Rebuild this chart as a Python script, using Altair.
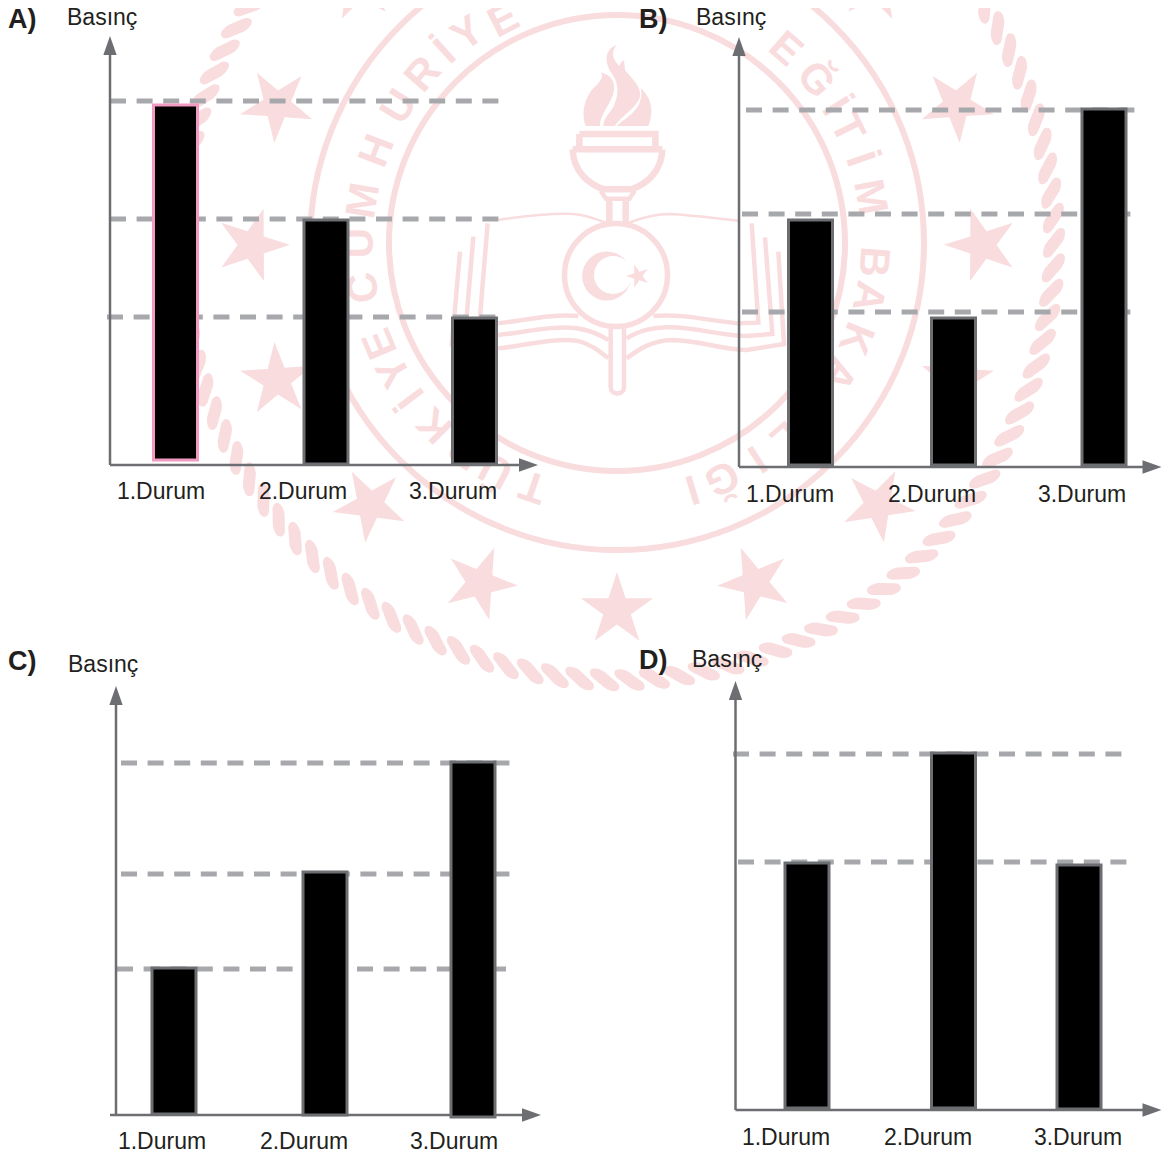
import math
import re
import altair as alt
import pandas as pd

# ---- chart values -------------------------------------------------------
cases = [1, 2, 3]
case_labels = ["1.Durum", "2.Durum", "3.Durum"]

panels = [
    dict(name="A)", base=465, axis_x=110, top=36, end=538, bars=[175.5, 326, 474.5], labels=[161, 303, 453],
         label_y=492, title_x=67, title_y=18, tag_x=8, tag_y=20,
         values=[3.60, 2.45, 1.47], bases=[0.05, 0.01, 0.01],
         lines=[(3.64, 110, 500), (2.46, 110, 500), (1.48, 107, 497)],
         strokes=["#f29ac2", "#6d6e71", "#6d6e71"]),
    dict(name="B)", base=467, axis_x=739, top=37, end=1161.5, bars=[810.5, 953.5, 1104], labels=[790, 932, 1082],
         label_y=495, title_x=696, title_y=18, tag_x=639, tag_y=20,
         values=[2.47, 1.49, 3.58], bases=[0.02, 0.02, 0.02],
         lines=[(3.57, 746, 1135), (2.53, 742, 1132), (1.55, 742, 1132)],
         strokes=["#6d6e71"] * 3),
    dict(name="C)", base=1115, axis_x=116, top=686, end=541, bars=[174, 325, 473], labels=[162, 304, 454],
         label_y=1142, title_x=68, title_y=665, tag_x=8, tag_y=662,
         values=[1.47, 2.43, 3.53], bases=[0.01, 0.0, -0.02],
         lines=[(3.52, 121, 511), (2.41, 121, 511), (1.46, 117, 294), (1.46, 357, 507)],
         strokes=["#6d6e71"] * 3),
    dict(name="D)", base=1110, axis_x=735.5, top=681, end=1161.5, bars=[807, 953.5, 1079], labels=[786, 928, 1078],
         label_y=1138, title_x=692, title_y=660, tag_x=639, tag_y=661,
         values=[2.47, 3.57, 2.45], bases=[0.02, 0.02, 0.01],
         lines=[(3.56, 733, 1122), (2.48, 738, 1127)],
         strokes=["#6d6e71"] * 3),
]

# ---- watermark values ---------------------------------------------------
seal_x, seal_y = 617, 243
ring_radii = [228, 307]
star_x = [277, 252, 277, 370, 480, 617, 755, 878, 957, 982, 957, 875, 359]
star_y = [105, 245, 380, 505, 583, 610, 583, 505, 380, 245, 105, -15, -15]
letters = list("TÜRKİYECUMHURİYEEĞİTİMBAKANLIĞI")
letter_theta = [109, 118, 126, 135, 143, 150, 157, 170, 180, 189.5, 201, 212, 221, 228, 234.5, 243,
                311, 320.6, 328, 333.6, 341, 349.7, 364.2, 372, 381.8, 390.6, 401,
                409, 417, 426, 433]
letter_radius = [257] * 15 + [250] + [257] * 15
rope_theta = [i * 360 / 110 for i in range(110)]

PINK = "#f9dcde"
GREY = "#6d6e71"
DASH = "#a7a8ab"
INK = "#231f20"
FONT = "Liberation Sans"

W, H = 1154, 1147
page_x = alt.Scale(domain=[0, W], range=[-8, W - 8])
page_y = alt.Scale(domain=[0, H], range=[-8, H - 8])
one = pd.DataFrame({"k": [0]})


def X(f="x"):
    return alt.X(f"{f}:Q", scale=page_x, axis=None)


def Y(f="y"):
    return alt.Y(f"{f}:Q", scale=page_y, axis=None)


def star_path():
    pts = []
    for i in range(10):
        r = 1 if i % 2 == 0 else 0.382
        a = math.radians(-90 + 36 * i)
        pts.append(f"{r * math.cos(a):.3f},{r * math.sin(a):.3f}")
    return "M" + " L".join(pts) + " Z"


STAR = star_path()
ROPE = ("M0,-1 C.25,-1 .38,-.55 .38,-.3 L.3,.6 C.28,.9 .1,1 0,1 C-.2,1 -.38,.6 -.38,.3 "
        "L-.3,-.6 C-.28,-.9 -.15,-1 0,-1 Z")
ARROW = "M0,-1 L.7,1 L-.7,1 Z"


def norm(path):
    # emblem outlines are noted in a 3x crop; bring them to the -1..1 symbol box
    n = [0]

    def rep(m):
        v = float(m.group(0))
        c = 528 if n[0] % 2 == 0 else 570
        n[0] += 1
        return f"{(v - c) / 600:.4f}"

    return re.sub(r"-?\d+(\.\d+)?", rep, path)


flames = (
    "M530,45 C490,60 495,100 515,130 C540,165 535,200 520,230 C505,255 490,265 490,288 L525,288 "
    "C540,260 590,235 600,200 C605,170 575,145 555,120 L552,90 C545,95 540,100 538,108 C520,90 510,70 530,45 Z "
    "M483,127 C530,140 530,180 510,215 C490,250 480,265 480,288 L437,288 C420,240 440,190 470,165 "
    "C485,150 490,140 483,127 Z "
    "M603,175 C640,210 640,250 625,288 L530,288 C560,260 612,240 603,175 Z"
)
thick = (
    "M418,312 L646,312 L646,356 M418,312 L418,356 "
    "M398,358 L667,358 M398,358 C400,420 440,460 492,478 L574,478 C625,460 665,420 667,358 "
    "M508,510 L508,578 M557,510 L557,578"
)
medium = (
    "M482,482 L498,506 L568,506 L584,482 M512,895 L512,1070 C512,1097 552,1097 552,1070 L552,895 "
    "M175,880 C250,872 340,850 415,858 "
    "M175,915 C250,908 340,885 410,895 C450,900 480,915 505,930 "
    "M175,955 C250,948 340,922 410,932 C450,940 480,965 505,985 "
    "M640,858 C720,850 800,870 890,880 L955,878 L935,580 "
    "M560,925 C590,905 640,888 700,892 C780,895 850,918 920,918 L997,912 L975,622 "
    "M560,985 C600,955 640,930 700,930 C780,932 850,960 920,960 L1032,942 L1015,665 "
    "M143,580 L120,860 M100,620 L80,860 M60,665 L35,950"
)
thin = (
    "M175,570 C250,558 350,548 400,552 C440,555 470,568 497,578 "
    "M568,578 C600,565 640,552 690,552 C750,555 830,565 895,572"
)


def emblem(path, width=None):
    d = pd.DataFrame({"x": [616], "y": [220]})
    if width is None:
        m = alt.Chart(d).mark_point(shape=norm(path), filled=True, fill=PINK, opacity=1, size=160000, strokeWidth=0)
    else:
        m = alt.Chart(d).mark_point(shape=norm(path), filled=False, stroke=PINK, opacity=1, size=160000,
                                    strokeWidth=width)
    return m.encode(x=X(), y=Y())


def circle(x, y, r, filled=False, color=PINK, width=5):
    d = pd.DataFrame({"x": [x], "y": [y]})
    kw = dict(fill=color, strokeWidth=0) if filled else dict(stroke=color, strokeWidth=width)
    return alt.Chart(d).mark_point(shape="circle", filled=filled, opacity=1, size=(2 * r) ** 2, **kw).encode(
        x=X(), y=Y())


layers = []

# rope
rope = pd.DataFrame({
    "x": [seal_x + 437 * math.cos(math.radians(t)) for t in rope_theta],
    "y": [seal_y + 437 * math.sin(math.radians(t)) for t in rope_theta],
    "a": [(t + 33) % 360 for t in rope_theta],
})
layers.append(alt.Chart(rope).mark_point(shape=ROPE, filled=True, fill=PINK, opacity=1, size=1156, strokeWidth=0)
              .encode(x=X(), y=Y(), angle=alt.Angle("a:Q", scale=None)))

# rings
for r in ring_radii:
    layers.append(circle(seal_x, seal_y, r, width=6))

# stars
stars = pd.DataFrame({"x": star_x, "y": star_y})
stars["a"] = [(math.degrees(math.atan2(seal_y - y, seal_x - x)) + 90) % 360 for x, y in zip(star_x, star_y)]
layers.append(alt.Chart(stars).mark_point(shape=STAR, filled=True, fill=PINK, opacity=1, size=5776, strokeWidth=0)
              .encode(x=X(), y=Y(), angle=alt.Angle("a:Q", scale=None)))

# curved inscription
ins = pd.DataFrame({
    "t": letters,
    "x": [seal_x + r * math.cos(math.radians(t)) for t, r in zip(letter_theta, letter_radius)],
    "y": [seal_y + r * math.sin(math.radians(t)) for t, r in zip(letter_theta, letter_radius)],
    "a": [(t + 90) % 360 for t in letter_theta],
})
layers.append(alt.Chart(ins).mark_text(font=FONT, fontSize=42, fontWeight="bold", color=PINK, baseline="middle",
                                       align="center")
              .encode(x=X(), y=Y(), text="t:N", angle=alt.Angle("a:Q", scale=None)))

# emblem
layers += [
    emblem(flames),
    emblem(thick, 6.5),
    emblem(medium, 4.5),
    emblem(thin, 2.5),
    circle(616, 275, 51.5, width=5.5),
    circle(606.7, 276, 24.5, filled=True),
    circle(613, 275, 19, filled=True, color="white"),
]
small = pd.DataFrame({"x": [638], "y": [276]})
layers.append(alt.Chart(small).mark_point(shape=STAR, filled=True, fill=PINK, opacity=1, size=576, strokeWidth=0,
                                          angle=270).encode(x=X(), y=Y()))

# panels
for p in panels:
    b = p["base"]
    y_scale = alt.Scale(domain=[0, 4.3], range=[b - 8, b - 8 - 430], zero=False, nice=False)
    x_scale = alt.Scale(domain=cases, range=[v - 8 for v in p["bars"]], zero=False, nice=False, padding=0)
    lab_scale = alt.Scale(domain=cases, range=[v - 8 for v in p["labels"]], zero=False, nice=False)
    ax = p["axis_x"] - 8

    for level, x0, x1 in p["lines"]:
        d = pd.DataFrame({"level": [level]})
        layers.append(alt.Chart(d).mark_rule(color=DASH, strokeWidth=5, strokeDash=[16, 10.6]).encode(
            y=alt.Y("level:Q", scale=y_scale, axis=None),
            x=alt.value(x0 - 8), x2=alt.value(x1 - 8)))

    # axes with arrow heads
    layers.append(alt.Chart(one).mark_rule(color=GREY, strokeWidth=2.5).encode(
        x=alt.value(ax), y=alt.value(p["top"] + 12 - 8), y2=alt.value(b - 8)))
    layers.append(alt.Chart(one).mark_rule(color=GREY, strokeWidth=2.5).encode(
        y=alt.value(b - 8), x=alt.value(ax - (6 if p["name"] == "C)" else 0)), x2=alt.value(p["end"] - 12 - 8)))
    layers.append(alt.Chart(one).mark_point(shape=ARROW, filled=True, fill=GREY, opacity=1, size=361, strokeWidth=0)
                  .encode(x=alt.value(ax), y=alt.value(p["top"] + 9.5 - 8)))
    layers.append(alt.Chart(one).mark_point(shape=ARROW, filled=True, fill=GREY, opacity=1, size=361, strokeWidth=0,
                                            angle=90)
                  .encode(x=alt.value(p["end"] - 9.5 - 8), y=alt.value(b - 8)))

    bars = pd.DataFrame({"case": cases, "value": p["values"], "base": p["bases"], "stroke": p["strokes"]})
    layers.append(alt.Chart(bars).mark_bar(size=44, fill="black", strokeWidth=3, opacity=1).encode(
        x=alt.X("case:Q", scale=x_scale, axis=None),
        y=alt.Y("value:Q", scale=y_scale, axis=None),
        y2=alt.Y2("base:Q"),
        stroke=alt.Stroke("stroke:N", scale=None, legend=None)))

    labs = pd.DataFrame({"case": cases, "label": case_labels})
    layers.append(alt.Chart(labs).mark_text(font=FONT, fontSize=23, color=INK, align="center", baseline="middle")
                  .encode(x=alt.X("case:Q", scale=lab_scale, axis=None), y=alt.value(p["label_y"] - 8),
                          text="label:N"))
    layers.append(alt.Chart(one).mark_text(text="Basınç", font=FONT, fontSize=23, color=INK, align="left",
                                           baseline="middle")
                  .encode(x=alt.value(p["title_x"] - 8), y=alt.value(p["title_y"] - 8)))
    layers.append(alt.Chart(one).mark_text(text=p["name"], font=FONT, fontSize=27, fontWeight="bold", color=INK,
                                           align="left", baseline="middle")
                  .encode(x=alt.value(p["tag_x"] - 8), y=alt.value(p["tag_y"] - 8)))

chart = (
    alt.layer(*layers)
    .resolve_scale(x="independent", y="independent")
    .properties(width=W, height=H, padding=0, autosize="none", background="white")
    .configure_view(stroke=None)
)
chart.save("out.html", embed_options={"renderer": "svg", "actions": False})
